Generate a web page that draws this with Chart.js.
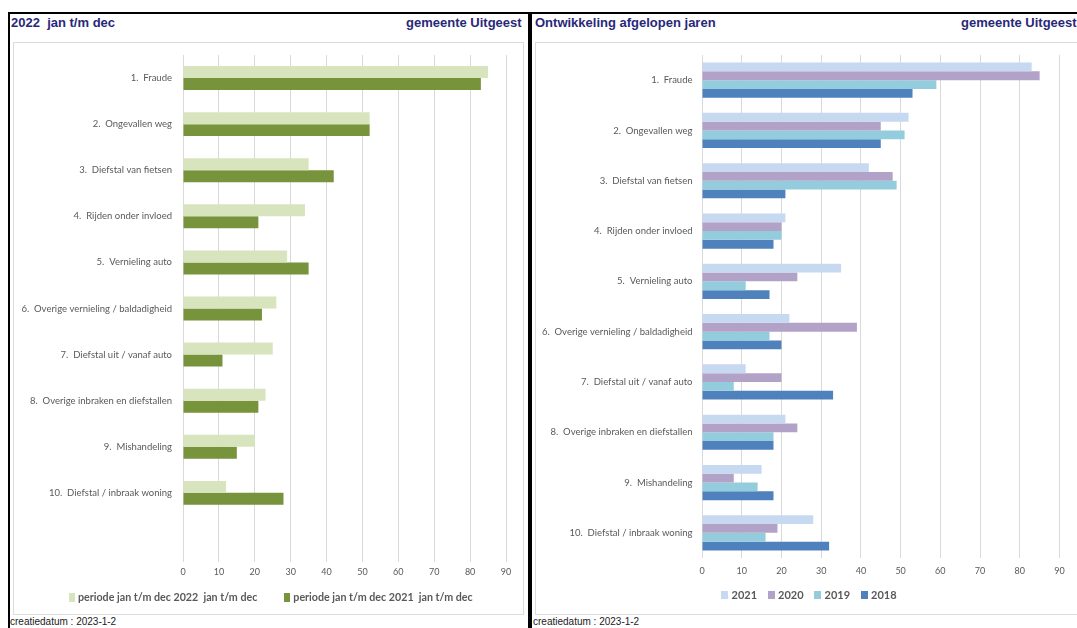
<!DOCTYPE html>
<html>
<head>
<meta charset="utf-8">
<script src="https://cdn.jsdelivr.net/npm/chart.js@4.4.1/dist/chart.umd.min.js"></script>
<style>
  body { margin:0; width:1077px; height:628px; overflow:hidden; background:#fff; position:relative;
         font-family:"Liberation Sans", Arial, sans-serif; }
  .panel { position:absolute; top:12px; height:660px; border:2px solid #000; box-sizing:border-box; }
  .title { position:absolute; top:15px; font-weight:bold; font-size:13px; line-height:15px; color:#28287a; white-space:pre; }
  .box { position:absolute; top:42px; height:573px; border:1px solid #dcdcdc; box-sizing:border-box; }
  .wrap { position:absolute; top:43px; height:571px; }
  .stamp { position:absolute; top:616px; font-size:10px; line-height:12px; color:#1a1a1a; }
  .legend { position:absolute; display:flex; align-items:center; line-height:14px; white-space:pre;
            font-family:Lato, sans-serif; font-weight:bold; color:#595959; }
  .legend span { display:flex; align-items:center; }
  .legend i { display:inline-block; }
  #lgLeft { left:69px; top:590px; font-size:10.7px; gap:27px; }
  #lgLeft i { width:6px; height:9px; margin-right:3px; }
  #lgRight { left:721px; top:588px; font-size:11px; gap:10.5px; }
  #lgRight i { width:7px; height:8px; margin-right:3.5px; }
</style>
</head>
<body>
<div class="panel" style="left:8px;width:522px"></div>
<div class="panel" style="left:530px;width:560px"></div>

<div class="title" style="left:11px">2022  jan t/m dec</div>
<div class="title" style="left:406px">gemeente Uitgeest</div>
<div class="title" style="left:535px">Ontwikkeling afgelopen jaren</div>
<div class="title" style="left:961px">gemeente Uitgeest</div>

<div class="box" style="left:13px;width:511px"></div>
<div class="box" style="left:535px;width:550px"></div>

<div class="wrap" style="left:14px;width:509px"><canvas id="left"></canvas></div>
<div class="wrap" style="left:533px;width:544px"><canvas id="right"></canvas></div>
<div class="legend" id="lgLeft"></div>
<div class="legend" id="lgRight"></div>

<div class="stamp" style="left:10px">creatiedatum : 2023-1-2</div>
<div class="stamp" style="left:533px">creatiedatum : 2023-1-2</div>

<script>
const categories = [
  '1.  Fraude',
  '2.  Ongevallen weg',
  '3.  Diefstal van fietsen',
  '4.  Rijden onder invloed',
  '5.  Vernieling auto',
  '6.  Overige vernieling / baldadigheid',
  '7.  Diefstal uit / vanaf auto',
  '8.  Overige inbraken en diefstallen',
  '9.  Mishandeling',
  '10.  Diefstal / inbraak woning'
];
const periodLabels = ['periode jan t/m dec 2022  jan t/m dec', 'periode jan t/m dec 2021  jan t/m dec'];
const period2022 = [85, 52, 35, 34, 29, 26, 25, 23, 20, 12];
const period2021 = [83, 52, 42, 21, 35, 22, 11, 21, 15, 28];

const years = ['2021', '2020', '2019', '2018'];
const y2021 = [83, 52, 42, 21, 35, 22, 11, 21, 15, 28];
const y2020 = [85, 45, 48, 20, 24, 39, 20, 24, 8, 19];
const y2019 = [59, 51, 49, 20, 11, 17, 8, 18, 14, 16];
const y2018 = [53, 45, 21, 18, 17, 20, 33, 18, 18, 32];

const xTicks = { min: 0, max: 90, step: 10 };

Chart.defaults.font.family = 'Lato, "Noto Sans", sans-serif';
const cGrid = '#d9d9d9';
const cText = '#595959';

function hbar(id, labels, datasets, o) {
  return new Chart(document.getElementById(id), {
    type: 'bar',
    data: { labels, datasets },
    options: {
      indexAxis: 'y',
      responsive: true,
      maintainAspectRatio: false,
      animation: false,
      layout: { padding: { left: 2, right: o.padR, top: 12, bottom: o.padB } },
      datasets: { bar: { categoryPercentage: o.cat, barPercentage: 1, borderWidth: 0 } },
      scales: {
        x: {
          min: xTicks.min, max: xTicks.max,
          ticks: { stepSize: xTicks.step, color: cText, font: { size: 9 }, padding: o.tickPad },
          grid: { color: cGrid, drawTicks: false },
          border: { display: false },
          afterFit: a => { a.height = o.xH; }
        },
        y: {
          grid: { display: false, tickLength: o.labelGap },
          border: { display: false },
          ticks: { color: cText, font: { size: 9.5 }, padding: 0, autoSkip: false },
          afterFit: a => { a.width = o.yW; }
        }
      },
      plugins: { legend: { display: false }, tooltip: { enabled: false } }
    }
  });
}

// legend as html, built from the chart's own datasets
function htmlLegend(chart, id) {
  const el = document.getElementById(id);
  chart.data.datasets.forEach(ds => {
    const item = document.createElement('span');
    const sw = document.createElement('i');
    sw.style.background = ds.backgroundColor;
    item.append(sw, ds.label);
    el.appendChild(item);
  });
}

// left: one empty slot below the last category, as in the original sheet
const left = hbar('left', categories.concat(['']), [
  { label: periodLabels[0], data: period2022, backgroundColor: '#d7e4bd' },
  { label: periodLabels[1], data: period2021, backgroundColor: '#77933c' }
], { padR: 17, padB: 36, yW: 167, xH: 16, tickPad: 5, labelGap: 11, cat: 0.52 });

const right = hbar('right', categories, [
  { label: years[0], data: y2021, backgroundColor: '#c6d9f1' },
  { label: years[1], data: y2020, backgroundColor: '#b3a2c7' },
  { label: years[2], data: y2019, backgroundColor: '#93cddd' },
  { label: years[3], data: y2018, backgroundColor: '#4f81bd' }
], { padR: 17.5, padB: 36, yW: 167, xH: 20, tickPad: 8, labelGap: 9.5, cat: 0.7 });

htmlLegend(left, 'lgLeft');
htmlLegend(right, 'lgRight');
</script>
</body>
</html>
